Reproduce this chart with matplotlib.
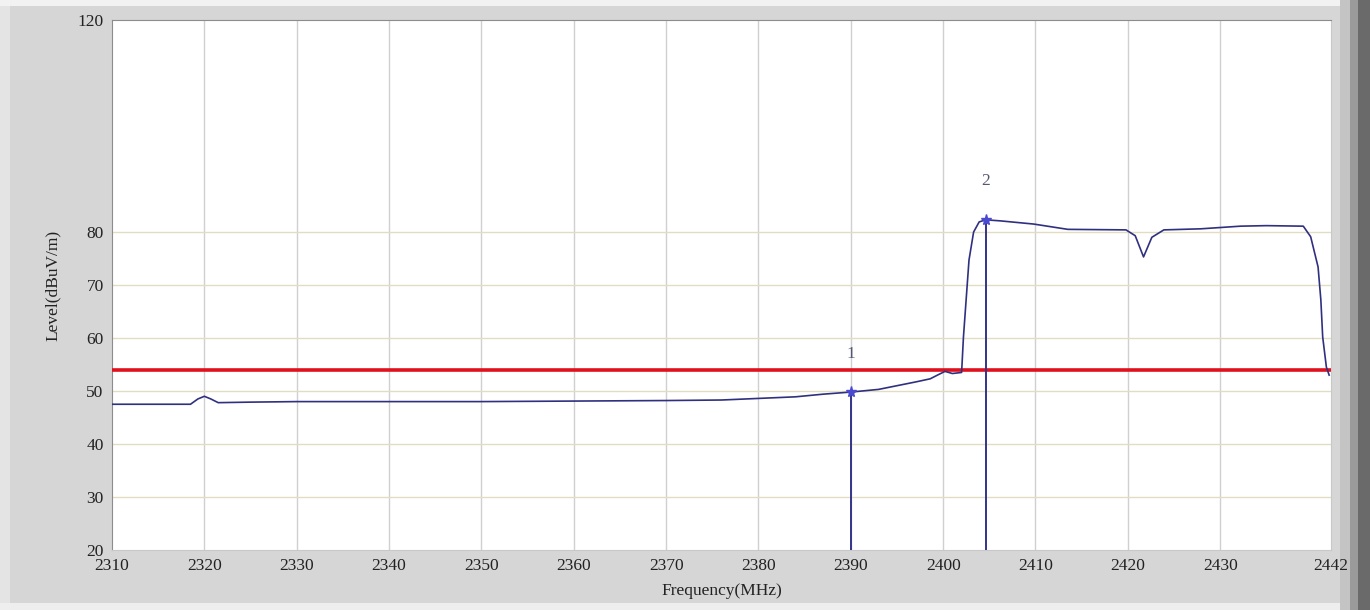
import numpy as np
import matplotlib.pyplot as plt
from matplotlib.patches import Rectangle

# trace
freq = [2310, 2318.5, 2319.3, 2320.0, 2320.7, 2321.5, 2325, 2330, 2340, 2350,
        2360, 2370, 2376, 2380, 2384, 2387, 2390, 2393, 2395, 2397,
        2398.6, 2399.5, 2400.2, 2401.0, 2402.0, 2402.2, 2402.8, 2403.3, 2403.9, 2404.6,
        2406.2, 2409.8, 2413.5, 2419.8, 2420.8, 2421.7, 2422.6, 2423.9, 2427.9, 2432.2,
        2435, 2439.0, 2439.8, 2440.6, 2440.9, 2441.1, 2441.5, 2441.8]
level = [47.5, 47.5, 48.5, 49.0, 48.5, 47.8, 47.9, 48.0, 48.0, 48.0,
         48.1, 48.2, 48.3, 48.6, 48.9, 49.4, 49.8, 50.3, 51.0, 51.7,
         52.3, 53.1, 53.7, 53.3, 53.5, 60.2, 74.7, 80.0, 81.9, 82.3,
         82.1, 81.5, 80.5, 80.4, 79.3, 75.3, 79.0, 80.4, 80.6, 81.1,
         81.2, 81.1, 79.1, 73.4, 67.2, 60.2, 54.5, 53.0]

limit = 54.0
marker_freq = [2390.0, 2404.6]
marker_level = [49.8, 82.3]
marker_names = ['1', '2']

xticks = [2310, 2320, 2330, 2340, 2350, 2360, 2370, 2380, 2390, 2400, 2410, 2420, 2430, 2442]
yticks = [20, 30, 40, 50, 60, 70, 80, 120]

plt.rcParams['font.family'] = ['Liberation Serif', 'DejaVu Serif']

fig = plt.figure(figsize=(13.7, 6.1), dpi=100)
fig.patch.set_facecolor('#d6d6d6')

# window frame shading
W, H = 1370.0, 610.0
frame = [
    (0, 0, 10, 610, '#e4e4e4'),
    (0, 603, 1370, 7, '#eeeeee'),
    (0, 0, 1370, 6, '#f2f2f2'),
    (1340, 0, 10, 610, '#c4c4c4'),
    (1350, 0, 8, 610, '#9a9a9a'),
    (1358, 0, 12, 610, '#6a6a6a'),
]
for x0, y0, w, h, c in frame:
    fig.add_artist(Rectangle((x0 / W, 1 - (y0 + h) / H), w / W, h / H,
                             transform=fig.transFigure, facecolor=c,
                             edgecolor='none', zorder=-5))

ax = fig.add_axes([112 / W, 1 - 550 / H, (1331 - 112) / W, 530 / H])
ax.set_facecolor('white')

for v in xticks[1:-1]:
    ax.axvline(v, color='#d0d0d0', lw=1, zorder=1)
for v in yticks[1:-1]:
    ax.axhline(v, color='#e2ddc0', lw=1, zorder=1)

ax.axhline(limit, color='#e0101e', lw=2.6, zorder=3)
ax.plot(freq, level, color='#303080', lw=1.2, zorder=4)

for f, lv, name in zip(marker_freq, marker_level, marker_names):
    ax.plot([f, f], [20, lv], color='#33338a', lw=1.4, zorder=5)
    ax.plot(f, lv, marker='*', ms=8, color='#4a4ad0', zorder=6)
    ax.annotate(name, (f, lv), xytext=(0, 22), textcoords='offset points',
                ha='center', va='bottom', fontsize=12.5, color='#555578')

ax.set_xlim(2310, 2442)
ax.set_ylim(20, 120)
ax.set_xticks(xticks)
ax.set_yticks(yticks)
ax.tick_params(length=0, labelsize=12.5, colors='#222222')
ax.tick_params(axis='y', pad=6)
ax.tick_params(axis='x', pad=6)
ax.get_yticklabels()[0].set_va('center_baseline')

for side in ['left', 'top']:
    ax.spines[side].set_color('#8c8c8c')
for side in ['right', 'bottom']:
    ax.spines[side].set_color('#c8c8c8')

ax.set_xlabel('Frequency(MHz)', fontsize=12.5, color='#222222', labelpad=6)
ax.set_ylabel('Level(dBuV/m)', fontsize=12.5, color='#222222', labelpad=12)

fig.savefig('out.png', dpi=100, facecolor=fig.get_facecolor())
